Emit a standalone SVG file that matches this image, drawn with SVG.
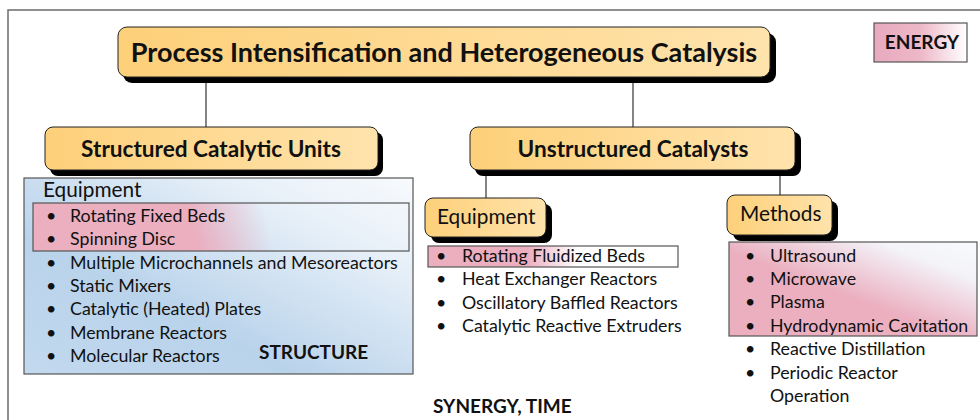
<svg xmlns="http://www.w3.org/2000/svg" width="980" height="420" viewBox="0 0 980 420">
<defs>
<linearGradient id="gOrange" x1="0" y1="0" x2="1" y2="0">
<stop offset="0" stop-color="#FDD07A"/><stop offset="1" stop-color="#FFE3AC"/>
</linearGradient>
<linearGradient id="gBlue" x1="0" y1="1" x2="1" y2="0">
<stop offset="0" stop-color="#C2D9EE"/><stop offset="0.35" stop-color="#B9D3EB"/><stop offset="0.75" stop-color="#E6EFF8"/><stop offset="1" stop-color="#F8FAFD"/>
</linearGradient>
<linearGradient id="gPinkA" gradientUnits="userSpaceOnUse" x1="195" y1="235" x2="265" y2="215">
<stop offset="0" stop-color="#EBAFC0"/><stop offset="1" stop-color="#EBAFC0" stop-opacity="0"/>
</linearGradient>
<linearGradient id="gPinkB" x1="0" y1="0" x2="1" y2="0">
<stop offset="0" stop-color="#EBAFC0"/><stop offset="0.4" stop-color="#EBAFC0"/><stop offset="0.6" stop-color="#FFFFFF"/><stop offset="1" stop-color="#FFFFFF"/>
</linearGradient>
<linearGradient id="gPinkC" x1="0" y1="1" x2="1" y2="0">
<stop offset="0" stop-color="#EBAFC0"/><stop offset="0.45" stop-color="#EBAFC0"/><stop offset="0.8" stop-color="#F3F3F8"/><stop offset="1" stop-color="#F8FAFD"/>
</linearGradient>
<linearGradient id="gPinkD" x1="0" y1="0" x2="1" y2="0">
<stop offset="0" stop-color="#E8A9BE"/><stop offset="0.5" stop-color="#EDB8C8"/><stop offset="1" stop-color="#FFFFFF"/>
</linearGradient>
</defs>
<style>
.frame{fill:none;stroke:#6b6b6b;stroke-width:1.5}
.shadow{fill:#000}
.node{fill:url(#gOrange);stroke:#222;stroke-width:1}
.conn{stroke:#333;stroke-width:1.2;fill:none}
.panel{stroke:#555;stroke-width:1.2}
text{font-family:Lato,"Liberation Sans",sans-serif;fill:#111}
.h1{font-size:27px;font-weight:bold}
.h2{font-size:22.6px;font-weight:bold}
.h3{font-size:20.8px}
.li{font-size:17.8px}
.lbl{font-size:19px;font-weight:bold}
</style>
<rect x="0" y="0" width="980" height="420" fill="#fff"/>
<rect class="frame" x="8" y="10" width="990" height="430"/>

<g id="connectors">
<line class="conn" x1="206" y1="78" x2="206" y2="128"/>
<line class="conn" x1="633" y1="78" x2="633" y2="128"/>
<line class="conn" x1="486" y1="172" x2="486" y2="199"/>
<line class="conn" x1="780" y1="172" x2="780" y2="196"/>
</g>

<g id="title">
<rect class="shadow" x="123" y="33" width="653" height="50" rx="9"/>
<rect class="node" x="118" y="27" width="652" height="50" rx="9"/>
<text class="h1" x="444" y="62" text-anchor="middle">Process Intensification and Heterogeneous Catalysis</text>
</g>

<g id="energy">
<rect x="874" y="23" width="93" height="39" fill="url(#gPinkD)" stroke="#555" stroke-width="1.2"/>
<text class="lbl" x="922" y="49" text-anchor="middle">ENERGY</text>
</g>

<g id="structured">
<rect class="shadow" x="50" y="132" width="333" height="44" rx="8"/>
<rect class="node" x="45" y="127" width="333" height="43" rx="8"/>
<text class="h2" x="211" y="157" text-anchor="middle">Structured Catalytic Units</text>
</g>

<g id="unstructured">
<rect class="shadow" x="475" y="132" width="326" height="44" rx="8"/>
<rect class="node" x="470" y="127" width="325" height="43" rx="8"/>
<text class="h2" x="633" y="157" text-anchor="middle">Unstructured Catalysts</text>
</g>

<g id="structured-list">
<rect class="panel" x="24" y="178" width="389" height="196" fill="url(#gBlue)"/>
<rect class="panel" x="33" y="203" width="376" height="48" fill="url(#gPinkA)"/>
<text class="h3" x="43" y="197">Equipment</text>
<g class="li">
<text x="46" y="222">•</text><text x="70" y="222">Rotating Fixed Beds</text>
<text x="46" y="245">•</text><text x="70" y="245">Spinning Disc</text>
<text x="46" y="269">•</text><text x="70" y="269">Multiple Microchannels and Mesoreactors</text>
<text x="46" y="292">•</text><text x="70" y="292">Static Mixers</text>
<text x="46" y="315">•</text><text x="70" y="315">Catalytic (Heated) Plates</text>
<text x="46" y="339">•</text><text x="70" y="339">Membrane Reactors</text>
<text x="46" y="362">•</text><text x="70" y="362">Molecular Reactors</text>
</g>
<text class="lbl" x="259" y="359">STRUCTURE</text>
</g>

<g id="equipment">
<rect class="shadow" x="431" y="204" width="121" height="39" rx="8"/>
<rect class="node" x="425" y="198" width="121" height="39" rx="8"/>
<text class="h3" x="437" y="224">Equipment</text>
</g>

<g id="equipment-list">
<rect class="panel" x="428" y="246" width="250" height="21" fill="url(#gPinkB)"/>
<g class="li">
<text x="436" y="262">•</text><text x="462" y="262">Rotating Fluidized Beds</text>
<text x="436" y="285">•</text><text x="462" y="285">Heat Exchanger Reactors</text>
<text x="436" y="309">•</text><text x="462" y="309">Oscillatory Baffled Reactors</text>
<text x="436" y="332">•</text><text x="462" y="332">Catalytic Reactive Extruders</text>
</g>
</g>

<g id="methods">
<rect class="shadow" x="733" y="201" width="105" height="40" rx="8"/>
<rect class="node" x="727" y="195" width="105" height="40" rx="8"/>
<text class="h3" x="740" y="221">Methods</text>
</g>

<g id="methods-list">
<rect class="panel" x="729" y="242" width="248" height="94" fill="url(#gPinkC)"/>
<g class="li">
<text x="745" y="262">•</text><text x="770" y="262">Ultrasound</text>
<text x="745" y="285">•</text><text x="770" y="285">Microwave</text>
<text x="745" y="308">•</text><text x="770" y="308">Plasma</text>
<text x="745" y="332">•</text><text x="770" y="332">Hydrodynamic Cavitation</text>
<text x="745" y="355">•</text><text x="770" y="355">Reactive Distillation</text>
<text x="745" y="379">•</text><text x="770" y="379">Periodic Reactor</text>
<text x="770" y="402">Operation</text>
</g>
</g>

<text class="lbl" x="433" y="413">SYNERGY, TIME</text>
</svg>
